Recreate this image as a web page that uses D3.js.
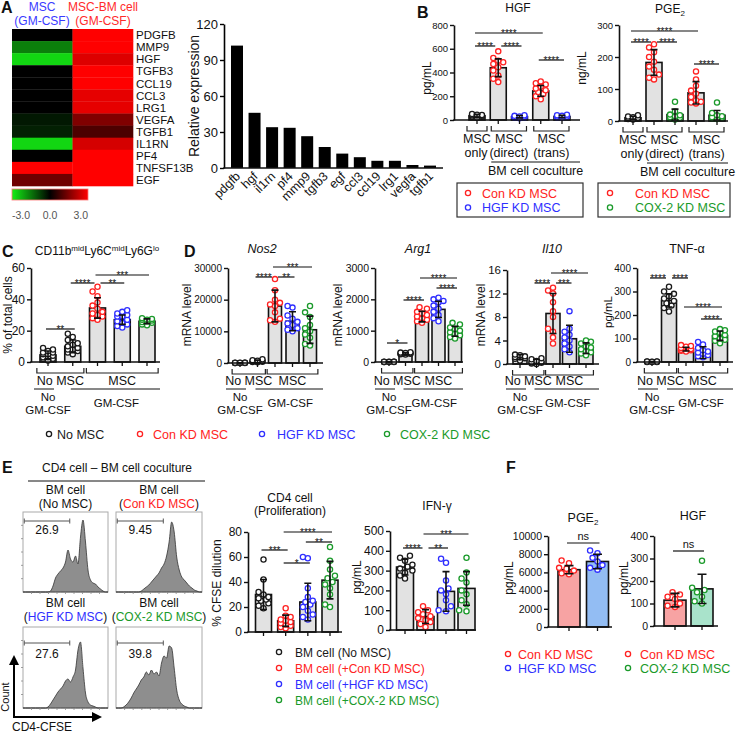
<!DOCTYPE html>
<html><head><meta charset="utf-8">
<script src="https://cdn.jsdelivr.net/npm/d3@7"></script>
<style>body{margin:0;background:#fff}svg{display:block}text{font-family:Arial,'Liberation Sans',Helvetica,sans-serif}</style>
</head><body>
<script>
// ---------------- DATA ----------------
// Panel A heatmap
const heatColumns = ["MSC", "MSC-BM cell"];
const heatGenes = ["PDGFB","MMP9","HGF","TGFB3","CCL19","CCL3","LRG1","VEGFA","TGFB1","IL1RN","PF4","TNFSF13B","EGF"];
const heatMSC   = [0, -1.6, -2.7, 0, 0, 0, 0, -0.3, -0.4, -2.7, 0, 3, 1.3];
const heatMSCBM = [3, 3, 2.6, 3, 3, 2.7, 2.7, 1.5, 0.9, 2.5, 3, 3, 3];
const colorbarLabels = ["-3.0", "0.0", "3.0"];
// Panel A bar chart
const relGenes = ["pdgfb","hgf","il1rn","pf4","mmp9","tgfb3","egf","ccl3","ccl19","lrg1","vegfa","tgfb1"];
const relExpr  = [102, 46, 34, 33.5, 26.5, 17.5, 12, 9, 6, 6, 2.5, 2];
const relTicks = [0, 30, 60, 90, 120];
// Panel B
const bGroupTop = ["MSC", "MSC", "MSC"];
const bGroupBottom = ["only", "(direct)", "(trans)"];
const hgfMean = [35, 440, 28, 245, 30];
const hgfSD   = [12, 75, 10, 45, 10];
const hgfPts  = [[20,30,35,40,45,25,38,50,28,42],[578,522,500,486,472,444,417,375,347,319],[15,20,30,35,25,40,30,20],[325,310,300,280,265,250,235,220,200,175],[20,30,40,45,25,35,30,22]];
const hgfCols = ["k","r","b","r","b"];
const hgfSig  = [[0,3,"****"],[0,1,"****"],[1,2,"****"],[3,4,"****"]];
const hgfTicks = [0,200,400,600,800];
const pgeMean = [10, 183, 20, 88, 18];
const pgeSD   = [5, 40, 17, 35, 15];
const pgePts  = [[5,8,12,18,10,6,9,14],[240,230,215,200,185,170,160,145,135,130],[60,30,20,15,10,8,12,18,5],[155,130,110,95,85,75,65,60,58,55],[58,25,18,15,10,8,12,6]];
const pgeCols = ["k","r","g","r","g"];
const pgeSig  = [[0,3,"****"],[0,1,"****"],[1,2,"****"],[3,4,"****"]];
const pgeTicks = [0,100,200,300];
// Panel C
const cMean = [4.5, 10, 34.5, 27, 26];
const cSD   = [2.5, 4, 6.5, 3, 1.5];
const cPts  = [[1,2,3,4,5,6,7,8,9,3,5,2,6],[5,6,7,8,9,10,11,12,14,16,18,8],[48,45,42,38,36,34,32,31,30,29,28,27],[33,32,31,30,29,27,26,25,24,23,22,29],[28,27.5,27,26.5,26,25.5,25,24,23.5,27]];
const cSig  = [[0,1,"**"],[1,2,"****"],[2,3,"**"],[2,4,"***"]];
const cTicks = [0,20,40,60];
const dCols = ["k","k","r","b","g"];
// Panel D
const nosMean = [0, 500, 18000, 13200, 10500];
const nosSD   = [50, 400, 5000, 3000, 4300];
const nosPts  = [[50,0,100,0,80,0,30,60],[200,400,600,900,1200,300,500,700],[26500,23000,20000,19000,18500,18000,16000,14000,13500,13000],[18000,17500,15000,14000,13000,12500,12000,11000,10000,10500],[18000,16000,14500,12000,11000,10000,9000,8000,6000,5500]];
const nosSig  = [[1,2,"****"],[2,3,"**"],[2,4,"***"]];
const nosTicks = [0,10000,20000,30000];
const argMean = [0, 270, 1450, 1680, 980];
const argSD   = [10, 30, 170, 260, 160];
const argPts  = [[0,10,5,0,8,3,0,5],[240,260,270,280,300,310,250,290],[1750,1700,1600,1550,1500,1450,1400,1350,1300,1250],[2050,2000,1950,1900,1800,1700,1600,1500,1400,1300],[1250,1200,1100,1050,1000,950,900,850,800,750]];
const argSig  = [[0,1,"*"],[1,2,"****"],[2,4,"****"],[3,4,"****"]];
const argTicks = [0,1000,2000,3000];
const il10Mean = [1.2, 0.4, 8.6, 4.3, 2.7];
const il10SD   = [0.4, 0.4, 3.4, 2.3, 0.9];
const il10Pts  = [[0.6,0.9,1.1,1.3,1.5,1.6,1.2,1.0],[0,0.2,0.3,0.5,0.8,1.0,0.1,0.4],[13,12.5,12,10.5,9,8,6,5.5,4.5,3.5],[9,6,5.5,5,4.5,4,3.5,3,2.5,2],[4,3.8,3.5,3,2.8,2.5,2.2,2,1.8,1.5]];
const il10Sig  = [[1,2,"****"],[2,3,"***"],[2,4,"****"]];
const il10Ticks = [0,4,8,12,16];
const tnfMean = [0, 262, 55, 40, 112];
const tnfSD   = [2, 28, 8, 25, 20];
const tnfPts  = [[0,1,2,0,1,0,2,1],[320,300,290,280,270,260,250,240,230,215],[72,68,65,60,58,55,52,50,48,45],[85,75,60,50,45,40,35,30,25,20],[140,135,130,125,115,110,100,95,90,80]];
const tnfSig  = [[0,1,"****"],[1,2,"****"],[2,4,"****"],[3,4,"****"]];
const tnfTicks = [0,100,200,300,400];
const legendMain = [["No MSC","k"],["Con KD MSC","r"],["HGF KD MSC","b"],["COX-2 KD MSC","g"]];
// Panel E
const flowTitles = [["(","No MSC",")","k"],["(","Con KD MSC",")","r"],["(","HGF KD MSC",")","b"],["(","COX-2 KD MSC",")","g"]];
const flowPct = ["26.9","9.45","27.6","39.8"];
const flowNoMSC = [0,0,0,0,0,0,0,0,0,0,0,1,6,14,18,21,24,30,42,33,30,36,28,55,72,50,22,12,9,8,5,3,1,0,0];
const flowConKD = [0,0,0,0,0,0,0,0,0,0,1,3,5,7,10,13,16,19,24,28,36,50,70,60,35,22,15,12,9,6,4,2,1,0,0];
const flowHGFKD = [0,0,0,0,0,0,0,0,0,0,1,4,8,12,16,19,22,27,29,26,31,38,58,66,40,15,6,3,2,1,0,0,0,0,0];
const flowCOX2  = [0,0,0,1,3,6,10,15,19,23,28,31,36,33,38,34,36,32,45,52,50,62,60,40,18,8,4,2,1,0,0,0,0,0,0];
const cd4Mean = [30, 9, 24, 41.5];
const cd4SD   = [12, 4.5, 15, 15];
const cd4Pts  = [[58,42,32,30,28,27,26,25,23,21,19],[19,13,12,10,9,8,7,6,5,4,3],[60,59,35,28,25,24,22,20,17,14,12,10],[68,57,50,45,43,40,38,35,30,22,20]];
const cd4Sig  = [[0,1,"***"],[1,2,"*"],[1,3,"****"],[2,3,"**"]];
const cd4Ticks = [0,20,40,60,80];
const ifnMean = [318, 68, 195, 210];
const ifnSD   = [40, 35, 100, 85];
const ifnPts  = [[375,365,350,330,320,310,300,290,275,260],[120,100,90,80,70,60,50,40,30,15],[360,340,250,210,200,180,150,120,100,95],[365,290,260,240,200,180,150,130,100,95]];
const ifnSig  = [[0,1,"****"],[1,2,"**"],[1,3,"***"]];
const ifnTicks = [0,100,200,300,400,500];
const eCols = ["k","r","b","g"];
const legendE = [["BM cell (No MSC)","k"],["BM cell (+Con KD MSC)","r"],["BM cell (+HGF KD MSC)","b"],["BM cell (+COX-2 KD MSC)","g"]];
// Panel F
const fPgeMean = [6300, 7200];
const fPgeSD   = [450, 800];
const fPgePts  = [[7300,7000,6500,6200,5900,5800,6400],[8400,8100,7600,7200,6800,6500,6300]];
const fPgeTicks = [0,2000,4000,6000,8000,10000];
const fHgfMean = [115, 165];
const fHgfSD   = [30, 65];
const fHgfPts  = [[150,140,130,120,100,90,85],[290,170,160,150,130,110,100]];
const fHgfTicks = [0,100,200,300,400];
const legendF1 = [["Con KD MSC","r"],["HGF KD MSC","b"]];
const legendF2 = [["Con KD MSC","r"],["COX-2 KD MSC","g"]];

// ---------------- DRAWING ----------------
const COL = {k:"#1a1a1a", r:"#ff2222", b:"#2f2fff", g:"#1a9a2a"};
const FILL = {r:"#f7a3a3", b:"#93bdf3", g:"#a9e3cb"};
const svg = d3.select("body").append("svg").attr("width",737).attr("height",735);

function T(x,y,s,o={}){
  const t = svg.append("text").attr("x",x).attr("y",y).text(s)
    .attr("font-size",o.size||12).attr("text-anchor",o.anchor||"middle").attr("fill",o.fill||"#111");
  if(o.weight) t.attr("font-weight",o.weight);
  if(o.style) t.attr("font-style",o.style);
  if(o.family) t.attr("font-family",o.family);
  if(o.rotate) t.attr("transform",`rotate(${o.rotate},${x},${y})`);
  return t;
}
function L(x1,y1,x2,y2,w=1.2,c="#111"){
  svg.append("line").attr("x1",x1).attr("y1",y1).attr("x2",x2).attr("y2",y2).attr("stroke",c).attr("stroke-width",w);
}
function bracket(xa,xb,yt,yb){
  svg.append("path").attr("d",`M${xa},${yt}V${yb}H${xb}V${yt}`).attr("fill","none").attr("stroke","#222").attr("stroke-width",1.2);
}
function dot(x,y,c){
  svg.append("circle").attr("cx",x).attr("cy",y).attr("r",2.6).attr("fill","#fff").attr("stroke",COL[c]).attr("stroke-width",1.3);
}
function letter(x,y,s){ T(x,y,s,{size:16,weight:900,anchor:"start"}); }

function barChart(lay, d){
  const n = d.means.length;
  const x = d3.scalePoint().domain(d3.range(n)).range([lay.c0,lay.c1]);
  const y = d3.scaleLinear().domain([0,lay.max]).range([lay.y0,lay.yTop]);
  const g = svg.append("g");
  g.selectAll("rect").data(d.means).join("rect")
    .attr("x",(v,i)=>x(i)-lay.bw/2).attr("width",lay.bw)
    .attr("y",v=>y(v)).attr("height",v=>y(0)-y(v))
    .attr("fill",(v,i)=>d.fills?FILL[d.fills[i]]:"#e2e2e2").attr("stroke","#111").attr("stroke-width",1.6);
  const r = 2.6;
  d.pts.forEach((arr,i)=>{
    const items = arr.map(v=>({v,py:y(v)})).sort((a,b)=>b.py-a.py);
    const placed=[];
    const lim = lay.bw/2 - 1;
    items.forEach(it=>{
      const cand=[0]; for(let k=1;k<=8;k++){cand.push(-k*r*0.95, k*r*0.95);}
      let best=0, bestO=Infinity;
      for(const o of cand){
        if(Math.abs(o)>lim) continue;
        let ov=0;
        placed.forEach(p=>{const dd=Math.hypot(p.px-o,p.py-it.py); if(dd<2*r+0.5) ov+=(2*r+0.5-dd);});
        if(ov===0){best=o;bestO=0;break;}
        if(ov<bestO){bestO=ov;best=o;}
      }
      it.px=best; placed.push(it);
    });
    g.selectAll(null).data(placed).join("circle")
      .attr("cx",p=>x(i)+p.px).attr("cy",p=>p.py).attr("r",r)
      .attr("fill","#fff").attr("stroke",COL[d.colors[i]]).attr("stroke-width",1.3);
  });
  const cap = lay.cap||7;
  d.means.forEach((m,i)=>{
    const lo = y(Math.max(0,m-d.sds[i])), hi = y(m+d.sds[i]), cx=x(i);
    g.append("path").attr("d",`M${cx},${lo}V${hi}M${cx-cap/2},${hi}H${cx+cap/2}M${cx-cap/2},${lo}H${cx+cap/2}`)
      .attr("stroke","#111").attr("stroke-width",1.6).attr("fill","none");
  });
  const ax = g.append("g").attr("transform",`translate(${lay.x0},0)`)
    .call(d3.axisLeft(y).tickValues(lay.ticks).tickSize(4).tickSizeOuter(0).tickPadding(2).tickFormat(d3.format("d")));
  ax.select(".domain").attr("stroke","#111").attr("stroke-width",1.6);
  ax.selectAll(".tick line").attr("stroke","#111").attr("stroke-width",1.4);
  ax.selectAll("text").attr("font-size",lay.fs).attr("fill","#111").attr("font-family","Arial,'Liberation Sans',sans-serif");
  L(lay.x0-0.8,lay.y0,lay.xEnd,lay.y0,1.6);
  if(lay.xticks!==false) d.means.forEach((v,i)=>L(x(i),lay.y0,x(i),lay.y0+4,1.3));
  const sig = d.sig||[];
  sig.forEach((s,k)=>{
    const yy = lay.sigY[k];
    const startsAtEnd = sig.some((o,kk)=>kk!==k && lay.sigY[kk]===yy && o[1]===s[0]);
    const endsAtStart = sig.some((o,kk)=>kk!==k && lay.sigY[kk]===yy && o[0]===s[1]);
    const xa = x(s[0]) + (startsAtEnd?3:-2), xb = x(s[1]) + (endsAtStart?-3:2);
    L(xa,yy,xb,yy,1.2);
    if(s[2]==="ns") T((xa+xb)/2,yy-3,"ns",{size:11});
    else T((xa+xb)/2,yy+3.5,s[2],{size:10});
  });
  if(lay.ylab) T(lay.ylab[1],lay.ylab[2],lay.ylab[0],{size:lay.ylfs||12,rotate:-90});
  return {x,y};
}

// ---- Panel A heatmap ----
letter(1,13,"A");
T(42,11,"MSC",{size:12,fill:"#3a3aff"}); T(42,25,"(GM-CSF)",{size:12,fill:"#3a3aff"});
T(103,11,"MSC-BM cell",{size:12,fill:"#ff2a2a"}); T(103,25,"(GM-CSF)",{size:12,fill:"#ff2a2a"});
const hx = d3.scaleBand().domain(heatColumns).range([12,133]);
const hy = d3.scaleBand().domain(heatGenes).range([29,186]);
const hcol = d3.scaleLinear().domain([-3,0,3]).range(["#14ee14","#000000","#ff0000"]).clamp(true);
const heatCells = [];
heatGenes.forEach((gname,i)=>{ heatCells.push({c:heatColumns[0],g:gname,v:heatMSC[i]}); heatCells.push({c:heatColumns[1],g:gname,v:heatMSCBM[i]}); });
svg.append("g").selectAll("rect").data(heatCells).join("rect")
  .attr("x",d=>hx(d.c)).attr("y",d=>hy(d.g)).attr("width",hx.bandwidth()+0.3).attr("height",hy.bandwidth()+0.3)
  .attr("fill",d=>hcol(d.v));
heatGenes.forEach(gname=>T(136,hy(gname)+hy.bandwidth()/2+4.2,gname,{size:11.5,anchor:"start"}));
const defs = svg.append("defs");
const grad = defs.append("linearGradient").attr("id","gbr");
[["0%","#14ee14"],["50%","#000"],["100%","#ff0000"]].forEach(s=>grad.append("stop").attr("offset",s[0]).attr("stop-color",s[1]));
const cbx = d3.scaleLinear().domain([-3,3]).range([12,88]);
svg.append("rect").attr("x",cbx(-3)).attr("y",189).attr("width",cbx(3)-cbx(-3)).attr("height",11).attr("fill","url(#gbr)").attr("stroke","#f77").attr("stroke-width",0.8);
T(cbx(-3),219,colorbarLabels[0],{size:10.5,anchor:"start",fill:"#555",family:"'DejaVu Sans Mono',monospace"});
T(cbx(0),219,colorbarLabels[1],{size:10.5,fill:"#555",family:"'DejaVu Sans Mono',monospace"});
T(cbx(3),219,colorbarLabels[2],{size:10.5,anchor:"end",fill:"#555",family:"'DejaVu Sans Mono',monospace"});

// ---- Panel A bar chart ----
{
  const x = d3.scalePoint().domain(relGenes).range([237,430]);
  const y = d3.scaleLinear().domain([0,120]).range([168,24]);
  svg.append("g").selectAll("rect").data(relExpr).join("rect")
    .attr("x",(v,i)=>x(relGenes[i])-6).attr("width",12).attr("y",v=>y(v)).attr("height",v=>y(0)-y(v)).attr("fill","#000");
  const ax = svg.append("g").attr("transform","translate(224,0)")
    .call(d3.axisLeft(y).tickValues(relTicks).tickSize(4).tickSizeOuter(0).tickPadding(2));
  ax.select(".domain").attr("stroke-width",1.6);
  ax.selectAll(".tick line").attr("stroke-width",1.4);
  ax.selectAll("text").attr("font-size",13).attr("fill","#111");
  L(223.2,168,443,168,1.6);
  relGenes.forEach(gn=>T(x(gn)+4,177,gn,{size:12.5,anchor:"end",rotate:-45}));
  T(199,96,"Relative expression",{size:14,rotate:-90});
}

// ---- Panel B ----
letter(417,18,"B");
function cocultureLabels(lay,x){
  const y0=lay.y0;
  bracket(x(0)-10,x(0)+10,y0+6,y0+11);
  bracket(x(1)-7,x(2)+7,y0+6,y0+11);
  bracket(x(3)-7,x(4)+7,y0+6,y0+11);
  const gc=[x(0),(x(1)+x(2))/2,(x(3)+x(4))/2];
  bGroupTop.forEach((s,i)=>T(gc[i],y0+23,s,{size:12.5}));
  bGroupBottom.forEach((s,i)=>T(gc[i]+(i===0?-1:0),y0+37,s,{size:12.5}));
  L(x(1)-7,y0+42,lay.xEnd,y0+42,1);
  T((x(1)-7+lay.xEnd)/2,y0+55,"BM cell coculture",{size:12.5});
}
function legendBox(x,y,w,h,items,cx,tx){
  svg.append("rect").attr("x",x).attr("y",y).attr("width",w).attr("height",h).attr("fill","none").attr("stroke","#333").attr("stroke-width",1.2);
  items.forEach((it,i)=>{ const cy=y+10+i*14.5; dot(cx,cy,it[1]); T(tx,cy+4.5,it[0],{size:12.5,anchor:"start",fill:COL[it[1]]}); });
}
{
  const lay={x0:454,y0:120,yTop:25,xEnd:580,c0:477,c1:562,bw:16,max:800,ticks:hgfTicks,fs:9.5,sigY:[33,46,46,60],ylab:["pg/mL",431,78]};
  const s = barChart(lay,{means:hgfMean,sds:hgfSD,pts:hgfPts,colors:hgfCols,sig:hgfSig});
  T(518,12,"HGF",{size:12});
  cocultureLabels(lay,s.x);
  legendBox(457,183,126,34,[["Con KD MSC","r"],["HGF KD MSC","b"]],468,482);
}
{
  const lay={x0:619,y0:121,yTop:25,xEnd:728,c0:633,c1:717,bw:16,max:300,ticks:pgeTicks,fs:9.5,sigY:[31,42,42,64],ylab:["ng/mL",586,68]};
  const s = barChart(lay,{means:pgeMean,sds:pgeSD,pts:pgePts,colors:pgeCols,sig:pgeSig});
  const t=T(670,13,"PGE",{size:12}); t.append("tspan").text("2").attr("font-size",8).attr("dy",3);
  cocultureLabels(lay,s.x);
  legendBox(598,183,132,34,[["Con KD MSC","r"],["COX-2 KD MSC","g"]],610,635);
}

// ---- Panel C and D ----
function gmLabels(lay,x){
  const y0=lay.y0, st=x.step();
  const b1a=x(0)-st*0.45, b1b=x(1)+st*0.45, b2a=x(2)-st*0.45, b2b=x(4)+st*0.45;
  bracket(b1a,b1b,y0+6,y0+11); bracket(b2a,b2b,y0+6,y0+11);
  T((b1a+b1b)/2,385,"No MSC",{size:12.5}); T((b2a+b2b)/2,385,"MSC",{size:12.5});
  L(x(0)-14,389,x(0)+6,389,1); L(x(1)-2,389,lay.xEnd,389,1);
  T(x(0),400.5,"No",{size:11.5}); T(x(0),414,"GM-CSF",{size:11.5});
  T((x(1)-2+lay.xEnd)/2+1,407,"GM-CSF",{size:11.5});
}
letter(2,257,"C");
{
  const lay={x0:31,y0:362,yTop:268,xEnd:160,c0:48,c1:147,bw:16,max:60,ticks:cTicks,fs:12,sigY:[329,283,283,275],ylab:["% of total cells",12,315]};
  const s=barChart(lay,{means:cMean,sds:cSD,pts:cPts,colors:dCols,sig:cSig});
  gmLabels(lay,s.x);
  const t=T(97,255,"CD11b",{size:12});
  t.append("tspan").text("mid").attr("font-size",8).attr("dy",-4);
  t.append("tspan").text("Ly6C").attr("dy",4);
  t.append("tspan").text("mid").attr("font-size",8).attr("dy",-4);
  t.append("tspan").text("Ly6G").attr("dy",4);
  t.append("tspan").text("lo").attr("font-size",8).attr("dy",-4);
}
letter(184,257,"D");
{
  const lay={x0:228,y0:363,yTop:268,xEnd:323,c0:240,c1:310,bw:13,max:30000,ticks:nosTicks,fs:10,sigY:[277,277,267],ylab:["mRNA level",191,315]};
  const s=barChart(lay,{means:nosMean,sds:nosSD,pts:nosPts,colors:dCols,sig:nosSig});
  gmLabels(lay,s.x); T(262,253,"Nos2",{size:12.5,style:"italic"});
}
{
  const lay={x0:375,y0:362,yTop:268,xEnd:463,c0:389,c1:455,bw:13,max:3000,ticks:argTicks,fs:10.5,sigY:[343,300,278,288],ylab:["mRNA level",342,315]};
  const s=barChart(lay,{means:argMean,sds:argSD,pts:argPts,colors:dCols,sig:argSig});
  gmLabels(lay,s.x); T(418,253,"Arg1",{size:12.5,style:"italic"});
}
{
  const lay={x0:507,y0:364,yTop:270,xEnd:599,c0:520,c1:586,bw:14,max:16,ticks:il10Ticks,fs:11.5,sigY:[283,283,273],ylab:["mRNA level",485,315]};
  const s=barChart(lay,{means:il10Mean,sds:il10SD,pts:il10Pts,colors:dCols,sig:il10Sig});
  gmLabels(lay,s.x); T(552,253,"Il10",{size:12.5,style:"italic"});
}
{
  const lay={x0:637,y0:362,yTop:268,xEnd:733,c0:652,c1:720,bw:15,max:400,ticks:tnfTicks,fs:10,sigY:[278,278,307,319],ylab:["pg/mL",612,312],ylfs:11.5};
  const s=barChart(lay,{means:tnfMean,sds:tnfSD,pts:tnfPts,colors:dCols,sig:tnfSig});
  gmLabels(lay,s.x); T(687,253,"TNF-α",{size:12.5});
}
const legX=[[49,57],[140,153],[262,277],[387,400]];
legendMain.forEach((it,i)=>{ dot(legX[i][0],434,it[1]); T(legX[i][1],438.5,it[0],{size:12.5,anchor:"start",fill:COL[it[1]]}); });

// ---- Panel E ----
letter(2,473,"E");
T(117,472,"CD4 cell – BM cell coculture",{size:12});
L(28,481,205,481,1);
const flowData=[flowNoMSC,flowConKD,flowHGFKD,flowCOX2];
const boxes=[[23,512,85,80],[116,512,86,80],[23,627,85,81],[116,627,86,81]];
const gateY=[521,521,643,643], pctY=[534,534,658,658];
const labY=[[494,507.5],[494,507.5],[607,620.5],[607,620.5]];
flowData.forEach((dat,k)=>{
  const [bx,by,w,h]=boxes[k];
  const x=d3.scaleLinear().domain([0,dat.length-1]).range([bx,bx+w]);
  const y=d3.scaleLinear().domain([0,80]).range([by+h,by+h-80]);
  svg.append("rect").attr("x",bx).attr("y",by).attr("width",w).attr("height",h).attr("fill","#fff").attr("stroke","#aaa").attr("stroke-width",1);
  svg.append("path").datum(dat).attr("d",d3.area().x((v,i)=>x(i)).y0(by+h).y1(v=>y(v)).curve(d3.curveMonotoneX))
    .attr("fill","#8e8e8e").attr("stroke","#333").attr("stroke-width",0.8);
  for(let t=1;t<10;t++) L(bx+w*t/10,by+h,bx+w*t/10,by+h+2,0.8,"#888");
  if(k%2===0) for(let t=1;t<6;t++) L(bx-2,by+h*t/6,bx,by+h*t/6,0.8,"#888");
  const ga=x(0.5), gb=x(18.7), gy=gateY[k];
  svg.append("path").attr("d",`M${ga},${gy-2.5}V${gy+2.5}M${ga},${gy}H${gb}M${gb},${gy-2.5}V${gy+2.5}`).attr("stroke","#555").attr("stroke-width",1).attr("fill","none");
  T((ga+gb)/2,pctY[k],flowPct[k],{size:12});
  const cx=bx+w/2;
  T(cx,labY[k][0],"BM cell",{size:12});
  const ft=flowTitles[k];
  const t=T(cx,labY[k][1],ft[0],{size:12});
  t.append("tspan").text(ft[1]).attr("fill",ft[3]==="k"?"#111":COL[ft[3]]);
  t.append("tspan").text(ft[2]).attr("fill","#111");
});
defs.append("marker").attr("id","arr").attr("viewBox","0 0 10 10").attr("refX",5).attr("refY",5)
  .attr("markerWidth",5).attr("markerHeight",5).attr("orient","auto-start-reverse")
  .append("path").attr("d","M0,0L10,5L0,10Z").attr("fill","#000");
svg.append("path").attr("d","M14,717V660").attr("stroke","#000").attr("stroke-width",2).attr("marker-end","url(#arr)");
svg.append("path").attr("d","M13,717H97").attr("stroke","#000").attr("stroke-width",2).attr("marker-end","url(#arr)");
T(9,697,"Count",{size:11,rotate:-90});
T(12,731,"CD4-CFSE",{size:12,anchor:"start"});
{
  const lay={x0:248,y0:632,yTop:532,xEnd:342,c0:263.5,c1:330,bw:16,max:80,ticks:cd4Ticks,fs:12,sigY:[550,563,532,542],ylab:["% CFSE dilution",221,583]};
  barChart(lay,{means:cd4Mean,sds:cd4SD,pts:cd4Pts,colors:eCols,sig:cd4Sig});
  T(290,502,"CD4 cell",{size:12}); T(290,515,"(Proliferation)",{size:12});
}
{
  const lay={x0:390,y0:630,yTop:531,xEnd:476,c0:405,c1:466.5,bw:17,max:500,ticks:ifnTicks,fs:12,sigY:[548,548,534],ylab:["pg/mL",361,577]};
  barChart(lay,{means:ifnMean,sds:ifnSD,pts:ifnPts,colors:eCols,sig:ifnSig});
  T(437,510,"IFN-γ",{size:12});
}
legendE.forEach((it,i)=>{ dot(279,652+i*16,it[1]); T(295,656.5+i*16,it[0],{size:12,anchor:"start",fill:COL[it[1]]}); });

// ---- Panel F ----
letter(506,473,"F");
{
  const lay={x0:548,y0:627,yTop:536,xEnd:612,c0:569,c1:597.5,bw:22,max:10000,ticks:fPgeTicks,fs:10.5,sigY:[543],ylab:["pg/mL",513,578],cap:9};
  barChart(lay,{means:fPgeMean,sds:fPgeSD,pts:fPgePts,colors:["r","b"],fills:["r","b"],sig:[[0,1,"ns"]]});
  const t=T(583,522,"PGE",{size:12.5}); t.append("tspan").text("2").attr("font-size",8).attr("dy",3);
  legendF1.forEach((it,i)=>{ dot(508,654+i*14,it[1]); T(518,658.5+i*14,it[0],{size:12.5,anchor:"start",fill:COL[it[1]]}); });
}
{
  const lay={x0:654,y0:626,yTop:536,xEnd:718,c0:675,c1:702,bw:22,max:400,ticks:fHgfTicks,fs:10.5,sigY:[551],ylab:["pg/mL",628,578],cap:9};
  barChart(lay,{means:fHgfMean,sds:fHgfSD,pts:fHgfPts,colors:["r","g"],fills:["r","g"],sig:[[0,1,"ns"]]});
  T(693,520,"HGF",{size:12.5});
  legendF2.forEach((it,i)=>{ dot(628,654+i*14,it[1]); T(640,658.5+i*14,it[0],{size:12.5,anchor:"start",fill:COL[it[1]]}); });
}
</script></body></html>
